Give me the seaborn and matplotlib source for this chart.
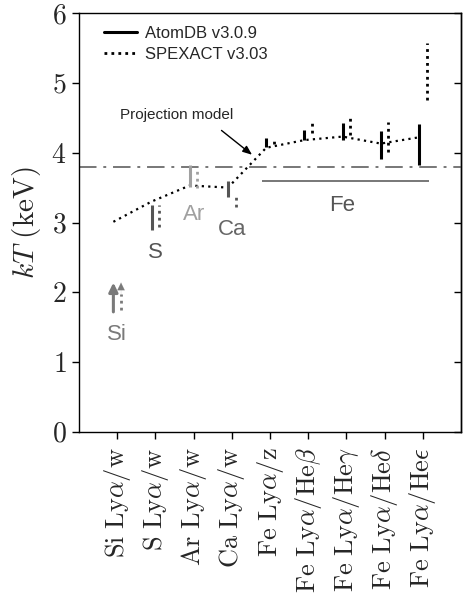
import numpy as np
import pandas as pd
import matplotlib
matplotlib.use("Agg")
import matplotlib.pyplot as plt
import seaborn as sns
from matplotlib.ticker import FuncFormatter

# ---------------- data ----------------
categories = [r"$\mathrm{Si\ Ly}\alpha/\mathrm{w}$",
              r"$\mathrm{S\ Ly}\alpha/\mathrm{w}$",
              r"$\mathrm{Ar\ Ly}\alpha/\mathrm{w}$",
              r"$\mathrm{Ca\ Ly}\alpha/\mathrm{w}$",
              r"$\mathrm{Fe\ Ly}\alpha/\mathrm{z}$",
              r"$\mathrm{Fe\ Ly}\alpha/\mathrm{He}\beta$",
              r"$\mathrm{Fe\ Ly}\alpha/\mathrm{He}\gamma$",
              r"$\mathrm{Fe\ Ly}\alpha/\mathrm{He}\delta$",
              r"$\mathrm{Fe\ Ly}\alpha/\mathrm{He}\epsilon$"]
elements = ["Si", "S", "Ar", "Ca", "Fe", "Fe", "Fe", "Fe", "Fe"]

# AtomDB v3.0.9 ranges (Si is a lower limit)
atomdb_low  = [1.72, 2.89, 3.51, 3.37, 4.08, 4.18, 4.18, 3.91, 3.82]
atomdb_high = [np.nan, 3.25, 3.83, 3.60, 4.21, 4.33, 4.43, 4.31, 4.41]
# SPEXACT v3.03 ranges (Si is a lower limit)
spex_low  = [1.75, 2.94, 3.50, 3.22, 4.12, 4.28, 4.25, 4.01, 4.76]
spex_high = [np.nan, 3.25, 3.75, 3.40, 4.21, 4.45, 4.50, 4.44, 5.57]

# projection model
model_kT = [3.01, 3.30, 3.53, 3.50, 4.07, 4.18, 4.23, 4.13, 4.22]

# reference levels
global_kT = 3.80
fe_kT = 3.60
fe_span = [3.8, 8.15]

elem_colors = {"Si": "#7a7a7a", "S": "#555555", "Ar": "#a0a0a0",
               "Ca": "#555555", "Fe": "#000000"}
label_colors = {"Si": "#7a7a7a", "S": "#555555", "Ar": "#a0a0a0",
                "Ca": "#666666", "Fe": "#555555"}
elem_label_kT = {"Si": 1.4, "S": 2.57, "Ar": 3.12, "Ca": 2.9, "Fe": 3.25}

# ---------------- plot ----------------
sns.set_theme(style="ticks")
plt.rcParams["mathtext.fontset"] = "cm"
plt.rcParams["font.family"] = ["Liberation Sans", "DejaVu Sans"]

fig = plt.figure(figsize=(4.63, 6.05), dpi=100)
ax = fig.add_axes([79 / 463, 1 - 432 / 605, (461 - 79) / 463, (432 - 13) / 605])

x = np.arange(len(categories))
off = 0.1

df_model = pd.DataFrame({"x": x - 0.1, "kT": model_kT})
sns.lineplot(data=df_model, x="x", y="kT", ax=ax, color="black",
             linestyle=(0, (1.0, 1.9)), lw=1.6, zorder=3)

ax.axhline(global_kT, color="#777777", lw=1.4, dashes=(9, 3.5, 1.5, 3.5), zorder=1)
ax.hlines(fe_kT, fe_span[0], fe_span[1], color="#777777", lw=1.4, zorder=1)

for i, el in enumerate(elements):
    c = elem_colors[el]
    if np.isnan(atomdb_high[i]):
        ax.annotate("", xy=(i - off, atomdb_low[i] + 0.42), xytext=(i - off, atomdb_low[i]),
                    arrowprops=dict(arrowstyle="-|>,head_length=0.45,head_width=0.22",
                                    color=c, lw=2.2, shrinkA=0, shrinkB=0))
        ax.annotate("", xy=(i + off, spex_low[i] + 0.39), xytext=(i + off, spex_low[i] + 0.2),
                    arrowprops=dict(arrowstyle="-|>,head_length=0.45,head_width=0.22",
                                    color=c, lw=0.1, shrinkA=0, shrinkB=0))
        ax.vlines(i + off, spex_low[i], spex_low[i] + 0.22, color=c, lw=2.0,
                  linestyles=[(0, (1.0, 1.5))])
    else:
        ax.vlines(i - off, atomdb_low[i], atomdb_high[i], color=c, lw=2.2, zorder=4)
        ax.vlines(i + off, spex_low[i], spex_high[i], color=c, lw=2.0,
                  linestyles=[(0, (1.0, 1.5))], zorder=4)

# element labels
first_idx = {}
for i, el in enumerate(elements):
    first_idx.setdefault(el, i)
for el, i in first_idx.items():
    xx = i if el != "Fe" else 5.9
    ax.text(xx, elem_label_kT[el], el, color=label_colors[el], fontsize=16,
            ha="center", va="center")

# legend
ax.plot([], [], color="black", lw=2.2, label="AtomDB v3.0.9")
ax.plot([], [], color="black", lw=2.0, linestyle=(0, (1.0, 1.5)), label="SPEXACT v3.03")
ax.legend(loc="upper left", frameon=False, fontsize=12, handlelength=2.0,
          borderaxespad=0.4, handletextpad=0.5, labelspacing=0.35,
          bbox_to_anchor=(0.03, 1.0))

ax.annotate("Projection model", xy=(3.53, 3.97), xytext=(0.08, 4.54),
            fontsize=11, ha="left", va="center",
            arrowprops=dict(arrowstyle="-|>,head_length=0.5,head_width=0.2",
                            color="black", lw=1.0, shrinkA=6, shrinkB=0,
                            relpos=(0.8, 0.0)))

ax.set_xlim(-1, 9)
ax.set_ylim(0, 6)
ax.set_xticks(x)
ax.set_xticklabels(categories, rotation=90, fontsize=19)
ax.set_yticks(range(0, 7))
ax.yaxis.set_major_formatter(FuncFormatter(lambda v, p: f"${v:.0f}$"))
ax.tick_params(axis="y", labelsize=20, direction="out", length=5, width=1.0,
               pad=4, color="black", right=False)
ax.tick_params(axis="x", direction="out", length=5, width=1.0, pad=6, color="black")
ax.set_xlabel("")
ax.set_ylabel(r"$kT\ (\mathrm{keV})$", fontsize=21, labelpad=6)
for s in ax.spines.values():
    s.set_linewidth(1.0)
    s.set_color("black")

# right-hand inward ticks
sec = ax.secondary_yaxis("right")
sec.set_yticks(range(0, 7))
sec.tick_params(axis="y", direction="in", length=5, width=1.0, labelright=False,
                color="black")
sec.spines["right"].set_linewidth(1.0)
sec.spines["right"].set_color("black")

fig.savefig("out.png", dpi=100)
